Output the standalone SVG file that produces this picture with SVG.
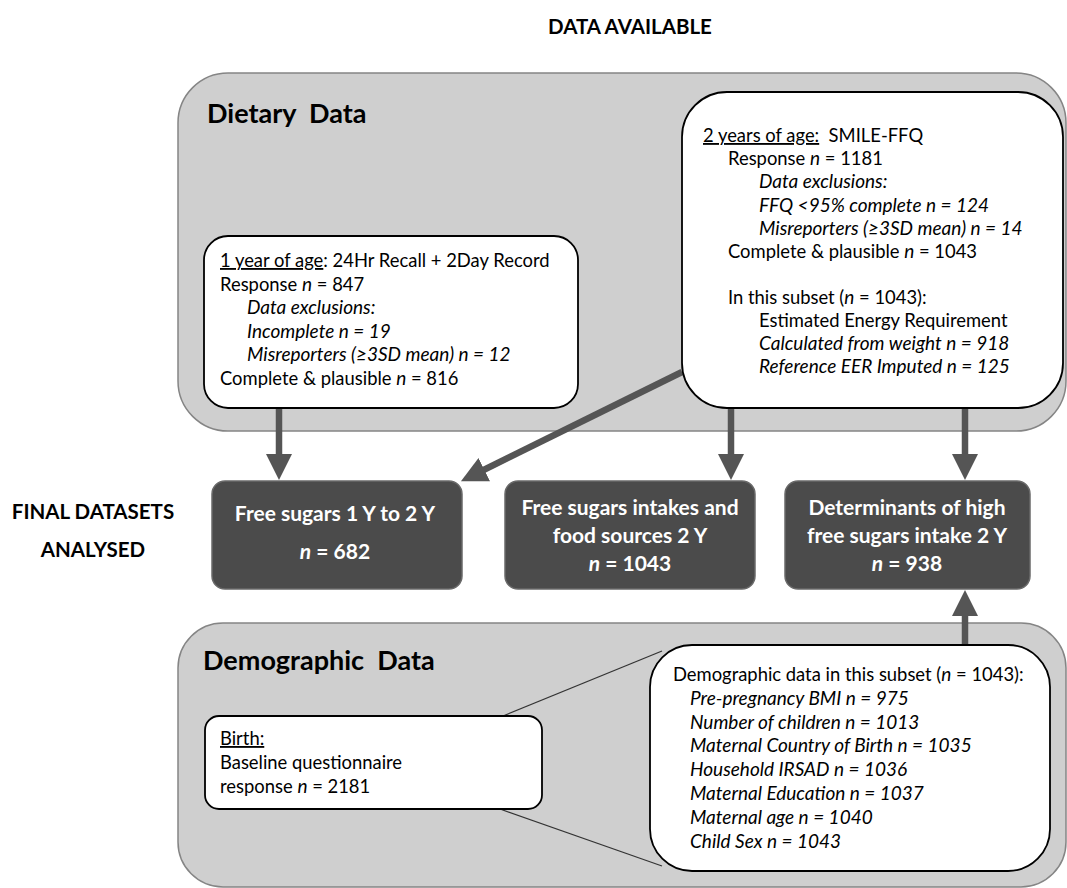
<svg xmlns="http://www.w3.org/2000/svg" width="1067" height="888" viewBox="0 0 1067 888">
<style>
text{font-family:Lato,"Liberation Sans",sans-serif;fill:#000}
.panel{fill:#cfcfcf;stroke:#858585;stroke-width:1.5}
.wbox{fill:#fff;stroke:#000;stroke-width:1.8}
.dbox{fill:#4b4b4b;stroke:#6a6a6a;stroke-width:1.5}
.title{font-weight:bold;font-size:27px}
.head{font-weight:bold;font-size:20.5px}
.body{font-size:18.4px}
.it{font-style:italic;font-size:19px}
.u{text-decoration:underline}
.dt{font-weight:bold;font-size:21px;fill:#fff;text-anchor:middle}
.arrow{stroke:#555;stroke-width:6.5;fill:none;marker-end:url(#ah)}
.thin{stroke:#333;stroke-width:1.2;fill:none}
</style>
<defs>
<marker id="ah" viewBox="0 0 26 26" refX="12" refY="13" markerWidth="26" markerHeight="26" markerUnits="userSpaceOnUse" orient="auto">
<path d="M0,0 L26,13 L0,26 Z" fill="#555"/>
</marker>
</defs>
<rect width="1067" height="888" fill="#fff"/>

<text class="head" x="548" y="34">DATA AVAILABLE</text>
<text class="head" x="93" y="519" text-anchor="middle">FINAL DATASETS</text>
<text class="head" x="93" y="557" text-anchor="middle">ANALYSED</text>

<g id="dietary-panel">
<rect class="panel" x="178" y="73" width="888" height="358" rx="50"/>
<text class="title" x="207" y="123" xml:space="preserve">Dietary  Data</text>
</g>

<g id="demographic-panel">
<rect class="panel" x="178" y="623" width="888" height="264" rx="45"/>
<text class="title" x="203" y="670" xml:space="preserve">Demographic  Data</text>
</g>

<g id="connectors">
<line class="arrow" x1="279" y1="408" x2="279" y2="466"/>
<line class="arrow" x1="682" y1="372" x2="473.5" y2="475"/>
<line class="arrow" x1="731" y1="408" x2="731" y2="466"/>
<line class="arrow" x1="965" y1="408" x2="965" y2="466"/>
<line class="arrow" x1="965" y1="646" x2="965" y2="604"/>
<line class="thin" x1="503" y1="716" x2="662" y2="651"/>
<line class="thin" x1="500" y1="809" x2="662" y2="866"/>
</g>

<g id="one-year">
<rect class="wbox" x="204" y="236" width="374" height="172" rx="24"/>
<text class="body" x="220" y="267"><tspan class="u">1 year of age</tspan>: 24Hr Recall + 2Day Record</text>
<text class="body" x="220" y="291">Response <tspan class="it">n</tspan> = 847</text>
<text class="it" x="247" y="314">Data exclusions:</text>
<text class="it" x="247" y="338">Incomplete n = 19</text>
<text class="it" x="247" y="361">Misreporters (≥3SD mean) n = 12</text>
<text class="body" x="220" y="385">Complete &amp; plausible <tspan class="it">n</tspan> = 816</text>
</g>

<g id="two-year">
<rect class="wbox" x="682" y="92" width="381" height="316" rx="45"/>
<text class="body" x="703" y="142" xml:space="preserve"><tspan class="u">2 years of age:</tspan>  SMILE-FFQ</text>
<text class="body" x="728" y="165">Response <tspan class="it">n</tspan> = 1181</text>
<text class="it" x="759" y="188">Data exclusions:</text>
<text class="it" x="759" y="212">FFQ &lt;95% complete n = 124</text>
<text class="it" x="759" y="235">Misreporters (≥3SD mean) n = 14</text>
<text class="body" x="728" y="258">Complete &amp; plausible <tspan class="it">n</tspan> = 1043</text>
<text class="body" x="728" y="304">In this subset (<tspan class="it">n</tspan> = 1043):</text>
<text class="body" x="759" y="327">Estimated Energy Requirement</text>
<text class="it" x="759" y="350">Calculated from weight n = 918</text>
<text class="it" x="759" y="373">Reference EER Imputed n = 125</text>
</g>

<g id="final-1">
<rect class="dbox" x="212" y="481" width="250" height="108" rx="13"/>
<text class="dt" x="335" y="521">Free sugars 1 Y to 2 Y</text>
<text class="dt" x="335" y="559"><tspan class="it" style="font-size:21px">n</tspan> = 682</text>
</g>

<g id="final-2">
<rect class="dbox" x="505" y="481" width="250" height="108" rx="13"/>
<text class="dt" x="630" y="515">Free sugars intakes and</text>
<text class="dt" x="630" y="543">food sources 2 Y</text>
<text class="dt" x="630" y="571"><tspan class="it" style="font-size:21px">n</tspan> = 1043</text>
</g>

<g id="final-3">
<rect class="dbox" x="785" y="481" width="245" height="108" rx="13"/>
<text class="dt" x="907" y="515">Determinants of high</text>
<text class="dt" x="907" y="543">free sugars intake 2 Y</text>
<text class="dt" x="907" y="571"><tspan class="it" style="font-size:21px">n</tspan> = 938</text>
</g>

<g id="birth">
<rect class="wbox" x="205" y="716" width="337" height="93" rx="14"/>
<text class="body" x="220" y="745"><tspan class="u">Birth:</tspan></text>
<text class="body" x="220" y="769">Baseline questionnaire</text>
<text class="body" x="220" y="793">response <tspan class="it">n</tspan> = 2181</text>
</g>

<g id="demographic-subset">
<rect class="wbox" x="650" y="645" width="400" height="226" rx="42"/>
<text class="body" x="673" y="681">Demographic data in this subset (<tspan class="it">n</tspan> = 1043):</text>
<text class="it" x="690" y="705">Pre-pregnancy BMI n = 975</text>
<text class="it" x="690" y="729">Number of children n = 1013</text>
<text class="it" x="690" y="752">Maternal Country of Birth n = 1035</text>
<text class="it" x="690" y="776">Household IRSAD n = 1036</text>
<text class="it" x="690" y="800">Maternal Education n = 1037</text>
<text class="it" x="690" y="824">Maternal age n = 1040</text>
<text class="it" x="690" y="848">Child Sex n = 1043</text>
</g>
</svg>
